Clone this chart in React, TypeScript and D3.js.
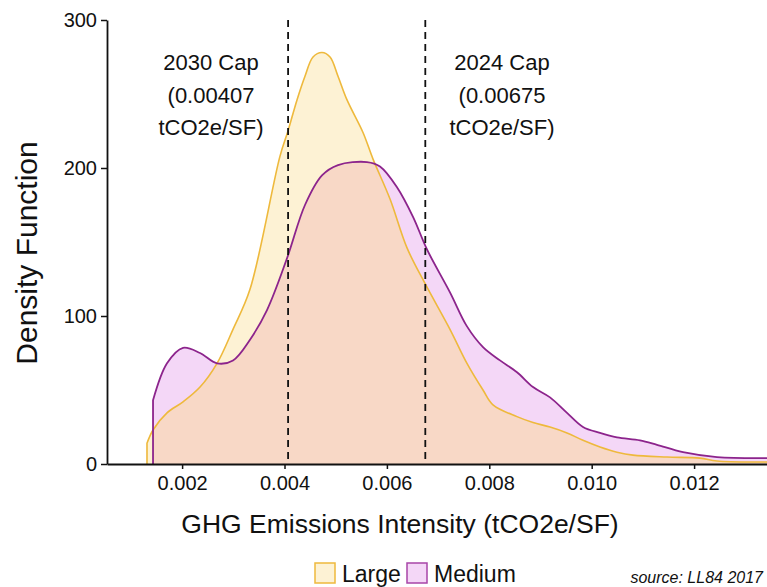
import React, { useRef, useEffect } from 'react';
import * as d3 from 'd3';

// density estimates: intensity (tCO2e/SF) and density
const LARGE_X = [0.001314, 0.001432, 0.001705, 0.002018, 0.00235, 0.002682, 0.002994, 0.003326, 0.003912, 0.004068, 0.004244, 0.0044, 0.004557, 0.004732, 0.004889, 0.005045, 0.005221, 0.005533, 0.005729, 0.006061, 0.006393, 0.006744, 0.007232, 0.007564, 0.007877, 0.008072, 0.008541, 0.008854, 0.009186, 0.009518, 0.00983, 0.010162, 0.010494, 0.010807, 0.011471, 0.012115, 0.012447, 0.013424];
const LARGE_Y = [14, 23, 34.5, 42, 52, 68, 91, 118, 208, 225, 246, 262, 275, 278, 275, 262, 246, 224, 206, 179, 146, 122, 91, 68, 50, 40, 32, 28, 25, 21, 16, 11.5, 8, 6, 4.7, 4, 2, 1.4];

const MEDIUM_X = [0.001432, 0.001705, 0.002018, 0.00235, 0.002682, 0.002994, 0.003326, 0.003658, 0.004049, 0.0044, 0.004732, 0.005045, 0.005611, 0.005865, 0.006197, 0.00651, 0.006783, 0.007232, 0.007564, 0.007877, 0.008209, 0.008541, 0.008854, 0.009186, 0.009518, 0.00983, 0.010162, 0.010494, 0.010943, 0.011275, 0.011783, 0.012447, 0.013424];
const MEDIUM_Y = [43, 68, 78.5, 75, 68, 70, 84, 104, 139, 175, 195, 202, 204, 201, 187, 167, 145, 116, 93, 79, 70, 62, 52, 45, 34.5, 25, 21, 18, 16, 13, 8, 4.7, 4];

const X_DOMAIN = [0.000533, 0.013424];
const Y_DOMAIN = [0, 300];
const X_TICKS = [0.002, 0.004, 0.006, 0.008, 0.01, 0.012];
const Y_TICKS = [0, 100, 200, 300];

const CAP_VALUES = [0.00407, 0.00675];
const CAP_LABELS = [
  ['2030 Cap', '(0.00407', 'tCO2e/SF)'],
  ['2024 Cap', '(0.00675', 'tCO2e/SF)'],
];
const CAP_LABEL_X = [211, 502];

const SERIES_NAMES = ['Large', 'Medium'];

const FONT = "'Liberation Sans', Arial, Helvetica, sans-serif";

export default function App() {
  const svgRef = useRef<SVGSVGElement | null>(null);

  useEffect(() => {
    if (!svgRef.current) return;
    const width = 767;
    const height = 587;
    const left = 107;
    const top = 20;
    const bottom = 464;

    const svg = d3.select(svgRef.current);
    svg.selectAll('*').remove();
    svg.attr('width', width).attr('height', height);

    const x = d3.scaleLinear().domain(X_DOMAIN).range([left, width]);
    const y = d3.scaleLinear().domain(Y_DOMAIN).range([bottom, top]);

    const large = LARGE_X.map((v, i) => [v, LARGE_Y[i]] as [number, number]);
    const medium = MEDIUM_X.map((v, i) => [v, MEDIUM_Y[i]] as [number, number]);

    const curve = d3.curveCatmullRom.alpha(0.5);
    const area = d3
      .area<[number, number]>()
      .x((d) => x(d[0]))
      .y0(y(0))
      .y1((d) => y(d[1]))
      .curve(curve);
    const line = d3
      .line<[number, number]>()
      .x((d) => x(d[0]))
      .y((d) => y(d[1]))
      .curve(curve);
    // outline starts on the baseline (trimmed density)
    const outline = (data: [number, number][]) =>
      `M${x(data[0][0])},${y(0)}` + (line(data) || '').replace(/^M/, 'L');

    const defs = svg.append('defs');
    defs
      .append('clipPath')
      .attr('id', 'large-clip')
      .append('path')
      .attr('d', area(large));

    svg.append('path').attr('d', area(large)).attr('fill', '#fdf2d4');
    svg.append('path').attr('d', area(medium)).attr('fill', '#f4d7f7');
    svg
      .append('path')
      .attr('d', area(medium))
      .attr('fill', '#f8d8c6')
      .attr('clip-path', 'url(#large-clip)');

    svg
      .append('path')
      .attr('d', outline(large))
      .attr('fill', 'none')
      .attr('stroke', '#eeb93c')
      .attr('stroke-width', 1.6);
    svg
      .append('path')
      .attr('d', outline(medium))
      .attr('fill', 'none')
      .attr('stroke', '#8c248c')
      .attr('stroke-width', 1.8);

    // cap lines
    svg
      .selectAll('line.cap')
      .data(CAP_VALUES)
      .join('line')
      .attr('class', 'cap')
      .attr('x1', (d) => x(d))
      .attr('x2', (d) => x(d))
      .attr('y1', y(Y_DOMAIN[1]))
      .attr('y2', y(0))
      .attr('stroke', '#111')
      .attr('stroke-width', 1.8)
      .attr('stroke-dasharray', '7,5');

    CAP_LABELS.forEach((lines, i) => {
      const t = svg
        .append('text')
        .attr('x', CAP_LABEL_X[i])
        .attr('y', 70)
        .attr('text-anchor', 'middle')
        .attr('font-family', FONT)
        .attr('font-size', 22)
        .attr('fill', '#111');
      lines.forEach((s, j) => {
        t.append('tspan').attr('x', CAP_LABEL_X[i]).attr('y', 70 + j * 32.5).text(s);
      });
    });

    // axes
    const yAxis = svg
      .append('g')
      .attr('transform', `translate(${left},0)`)
      .call(d3.axisLeft(y).tickValues(Y_TICKS).tickSize(6).tickPadding(4).tickSizeOuter(0));
    const xAxis = svg
      .append('g')
      .attr('transform', `translate(0,${bottom})`)
      .call(
        d3
          .axisBottom(x)
          .tickValues(X_TICKS)
          .tickFormat((d) => d3.format('.3f')(d as number))
          .tickSize(5)
          .tickPadding(7)
          .tickSizeOuter(0)
      );
    [xAxis, yAxis].forEach((g) => {
      g.selectAll('.domain').attr('stroke', '#111').attr('stroke-width', 1.8);
      g.selectAll('.tick line').attr('stroke', '#111').attr('stroke-width', 1.5);
      g.selectAll('text')
        .attr('fill', '#111')
        .attr('font-size', 20)
        .attr('font-family', FONT);
    });

    // axis titles
    svg
      .append('text')
      .attr('x', 400)
      .attr('y', 533)
      .attr('text-anchor', 'middle')
      .attr('font-family', FONT)
      .attr('font-size', 26.5)
      .attr('fill', '#111')
      .text('GHG Emissions Intensity (tCO2e/SF)');
    svg
      .append('text')
      .attr('transform', 'translate(37,253) rotate(-90)')
      .attr('text-anchor', 'middle')
      .attr('font-family', FONT)
      .attr('font-size', 30)
      .attr('fill', '#111')
      .text('Density Function');

    // legend
    const legendFill = ['#fdf2d4', '#f4d7f7'];
    const legendStroke = ['#eeb93c', '#a845a8'];
    const legendX = [315, 407];
    SERIES_NAMES.forEach((name, i) => {
      svg
        .append('rect')
        .attr('x', legendX[i])
        .attr('y', 563)
        .attr('width', 20)
        .attr('height', 20)
        .attr('fill', legendFill[i])
        .attr('stroke', legendStroke[i])
        .attr('stroke-width', 1.5);
      svg
        .append('text')
        .attr('x', legendX[i] + 27)
        .attr('y', 582)
        .attr('font-family', FONT)
        .attr('font-size', 23)
        .attr('fill', '#111')
        .text(name);
    });

    svg
      .append('text')
      .attr('x', 763)
      .attr('y', 583)
      .attr('text-anchor', 'end')
      .attr('font-family', FONT)
      .attr('font-size', 16)
      .attr('font-style', 'italic')
      .attr('fill', '#111')
      .text('source: LL84 2017');
  }, []);

  return (
    <div style={{ position: 'absolute', left: 0, top: 0, background: '#fff' }}>
      <svg ref={svgRef} style={{ display: 'block' }} />
    </div>
  );
}
